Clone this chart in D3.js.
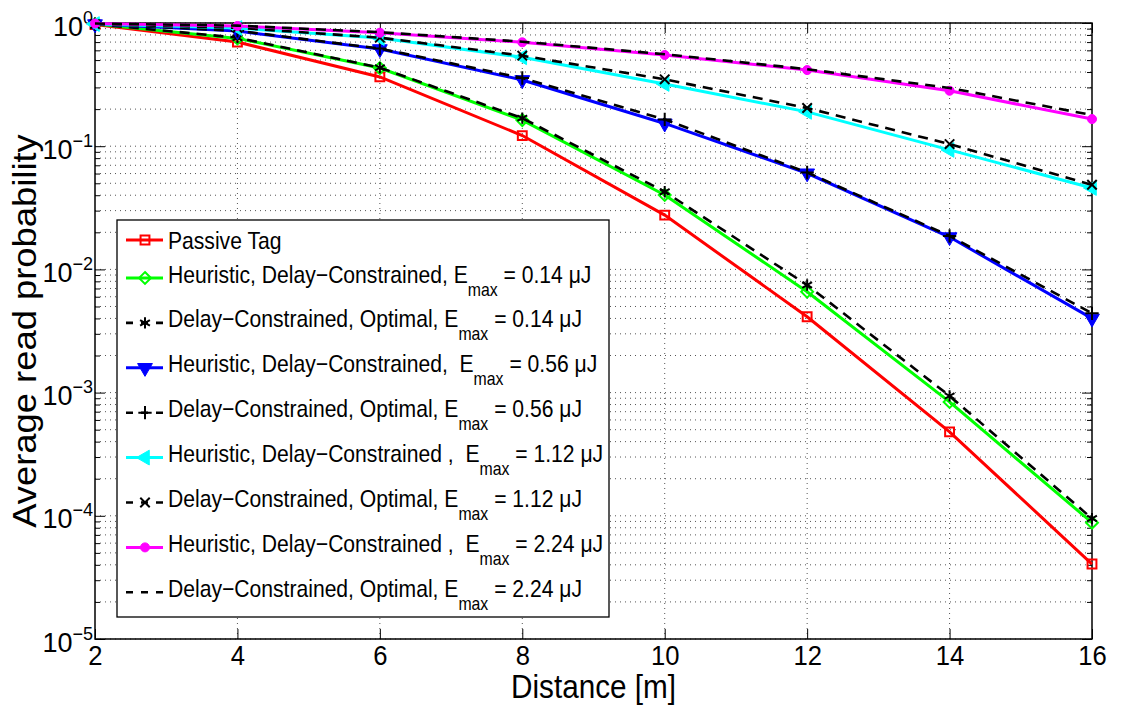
<!DOCTYPE html>
<html>
<head>
<meta charset="utf-8">
<script src="https://cdn.jsdelivr.net/npm/d3@7"></script>
<style>
  body { margin: 0; background: #fff; }
  text { font-family: "Liberation Sans", Arial, Helvetica, sans-serif; fill: #000; white-space: pre; }
</style>
</head>
<body>
<svg id="chart" width="1122" height="720"></svg>
<script>
// Data
const distances = [2, 4, 6, 8, 10, 12, 14, 16];

const passiveTag   = [0.97, 0.70, 0.365, 0.122, 0.0276, 0.00413, 0.00048, 0.0000406];
const heur014      = [0.98, 0.75, 0.431, 0.163, 0.0402, 0.00659, 0.00084, 0.000088];
const opt014       = [0.98, 0.76, 0.434, 0.169, 0.0427, 0.00747, 0.00094, 0.000095];
const heur056      = [0.98, 0.86, 0.615, 0.345, 0.153, 0.0603, 0.0183, 0.0040];
const opt056       = [0.98, 0.865, 0.62, 0.358, 0.165, 0.0612, 0.0187, 0.0044];
const heur112      = [0.98, 0.91, 0.755, 0.527, 0.32, 0.19, 0.0933, 0.0458];
const opt112       = [0.98, 0.915, 0.76, 0.543, 0.349, 0.204, 0.104, 0.0486];
const heur224      = [0.99, 0.946, 0.834, 0.697, 0.55, 0.415, 0.282, 0.166];
const opt224       = [0.99, 0.952, 0.842, 0.705, 0.558, 0.422, 0.297, 0.179];

const legendMain = [
  "Passive Tag",
  "Heuristic, Delay\u2212Constrained, E",
  "Delay\u2212Constrained, Optimal, E",
  "Heuristic, Delay\u2212Constrained,  E",
  "Delay\u2212Constrained, Optimal, E",
  "Heuristic, Delay\u2212Constrained ,  E",
  "Delay\u2212Constrained, Optimal, E",
  "Heuristic, Delay\u2212Constrained ,  E",
  "Delay\u2212Constrained, Optimal, E"
];
const legendValue = [null, "0.14", "0.14", "0.56", "0.56", "1.12", "1.12", "2.24", "2.24"];

const yDecades = [1e-5, 1e-4, 1e-3, 1e-2, 1e-1, 1];
const yExponents = ["\u22125", "\u22124", "\u22123", "\u22122", "\u22121", "0"];

// series styles (MATLAB plot order)
const series = [
  { values: passiveTag, color: "#ff0000", dash: null, marker: d3.symbolSquare2, size: 100, fill: false },
  { values: heur014, color: "#00ff00", dash: null, marker: d3.symbolDiamond2, size: 90, fill: false },
  { values: opt014, color: "#000", dash: "10,7", marker: d3.symbolAsterisk, size: 90, fill: false },
  { values: heur056, color: "#0000ff", dash: null, marker: d3.symbolTriangle, size: 95, fill: true, rot: 180 },
  { values: opt056, color: "#000", dash: "10,7", marker: d3.symbolPlus, size: 60, fill: false },
  { values: heur112, color: "#00ffff", dash: null, marker: d3.symbolTriangle, size: 95, fill: true, rot: -90 },
  { values: opt112, color: "#000", dash: "10,7", marker: d3.symbolTimes, size: 60, fill: false },
  { values: heur224, color: "#ff00ff", dash: null, marker: d3.symbolCircle, size: 64, fill: true },
  { values: opt224, color: "#000", dash: "10,7", marker: null }
];

const svg = d3.select("#chart");
const margin = { top: 23, right: 30, bottom: 81, left: 95 };
const width = +svg.attr("width") - margin.left - margin.right;
const height = +svg.attr("height") - margin.top - margin.bottom;

const chart = svg.append("g").attr("transform", `translate(${margin.left},${margin.top})`);

const x = d3.scaleLinear().domain([2, 16]).range([0, width]);
const y = d3.scaleLog().domain([1e-5, 1]).range([height, 0]);

// grid
const grid = chart.append("g")
  .attr("stroke", "#555").attr("stroke-width", 1).attr("stroke-dasharray", "1,4");
grid.selectAll(".hg").data(y.ticks()).enter().append("line")
  .attr("x1", 0).attr("x2", width)
  .attr("y1", d => y(d)).attr("y2", d => y(d));
grid.selectAll(".vg").data(distances.slice(1, -1)).enter().append("line")
  .attr("y1", 0).attr("y2", height)
  .attr("x1", d => x(d)).attr("x2", d => x(d));

// axes (ticks inside)
const xAxis = chart.append("g")
  .attr("transform", `translate(0,${height})`)
  .call(d3.axisBottom(x).tickValues(distances).tickSizeInner(-10).tickSizeOuter(0).tickPadding(7));
xAxis.selectAll("text").attr("font-size", 27).attr("transform", "scale(0.95,1)");

chart.append("g")
  .call(d3.axisTop(x).tickValues(distances).tickSizeInner(-10).tickSizeOuter(0).tickFormat(""));

const yAxis = chart.append("g")
  .call(d3.axisLeft(y).tickValues(yDecades).tickSizeInner(-10).tickSizeOuter(0).tickPadding(2).tickFormat(""));
yAxis.selectAll(".tick text").each(function (d, i) {
  const t = d3.select(this).attr("dy", null).attr("y", 12);
  t.append("tspan").attr("font-size", 27).text("10");
  t.append("tspan").attr("font-size", 18).attr("dy", -12).text(yExponents[i]);
});
const minors = y.ticks().filter(v => !yDecades.includes(v));
chart.append("g")
  .call(d3.axisLeft(y).tickValues(minors).tickSizeInner(-5).tickSizeOuter(0).tickFormat(""));
chart.append("g").attr("transform", `translate(${width},0)`)
  .call(d3.axisRight(y).tickValues(yDecades).tickSizeInner(-10).tickSizeOuter(0).tickFormat(""));
chart.append("g").attr("transform", `translate(${width},0)`)
  .call(d3.axisRight(y).tickValues(minors).tickSizeInner(-5).tickSizeOuter(0).tickFormat(""));

chart.selectAll(".domain").remove();
chart.selectAll(".tick line").attr("stroke", "#000").attr("stroke-width", 1);

// box
chart.append("rect")
  .attr("width", width).attr("height", height)
  .attr("fill", "none").attr("stroke", "#000").attr("stroke-width", 1.5);

// lines + markers
const line = d3.line().x(d => x(d.d)).y(d => y(d.v));

function drawMarker(sel, s) {
  sel.attr("d", d3.symbol().type(s.marker).size(s.size))
    .attr("fill", s.fill ? s.color : "none")
    .attr("stroke", s.color)
    .attr("stroke-width", s.fill ? 1 : 2);
}

series.forEach(s => {
  const pts = distances.map((d, i) => ({ d: d, v: s.values[i] }));
  chart.append("path")
    .datum(pts)
    .attr("fill", "none")
    .attr("stroke", s.color)
    .attr("stroke-width", s.dash ? 2.6 : 3)
    .attr("stroke-dasharray", s.dash)
    .attr("d", line);
  if (s.marker) {
    chart.selectAll(null).data(pts).enter().append("path")
      .attr("transform", d => `translate(${x(d.d)},${y(d.v)}) rotate(${s.rot || 0})`)
      .call(drawMarker, s);
  }
});

// labels
svg.append("text")
  .attr("transform", `translate(${margin.left + width / 2},698) scale(0.9,1)`)
  .attr("text-anchor", "middle")
  .attr("font-size", 33)
  .text("Distance [m]");

svg.append("text")
  .attr("transform", `translate(36,${margin.top + height / 2}) rotate(-90) scale(1.07,1)`)
  .attr("text-anchor", "middle")
  .attr("font-size", 34)
  .text("Average read probability");

// legend
const legend = svg.append("g");
legend.append("rect")
  .attr("x", 117).attr("y", 220).attr("width", 492).attr("height", 397)
  .attr("fill", "#fff").attr("stroke", "#000").attr("stroke-width", 1.3);

series.forEach((s, i) => {
  const cy = i === 0 ? 240 : 274 + 44.9 * (i - 1);
  const ly = i === 0 ? cy : cy + 4;
  const row = legend.append("g");
  row.append("line")
    .attr("x1", 126).attr("x2", 163).attr("y1", ly).attr("y2", ly)
    .attr("stroke", s.color)
    .attr("stroke-width", s.dash ? 2.6 : 3)
    .attr("stroke-dasharray", s.dash ? "7,8" : null);
  if (s.marker) {
    row.append("path")
      .attr("transform", `translate(145,${ly}) rotate(${s.rot || 0})`)
      .call(drawMarker, s);
  }
  const t = row.append("text")
    .attr("transform", `translate(168,${cy + 8.5}) scale(0.88,1)`)
    .attr("font-size", 24);
  t.append("tspan").text(legendMain[i]);
  if (legendValue[i]) {
    t.append("tspan").attr("font-size", 18).attr("dy", 13).text("max");
    t.append("tspan").attr("dy", -13).text(` = ${legendValue[i]} \u03bcJ`);
  }
});
</script>
</body>
</html>
